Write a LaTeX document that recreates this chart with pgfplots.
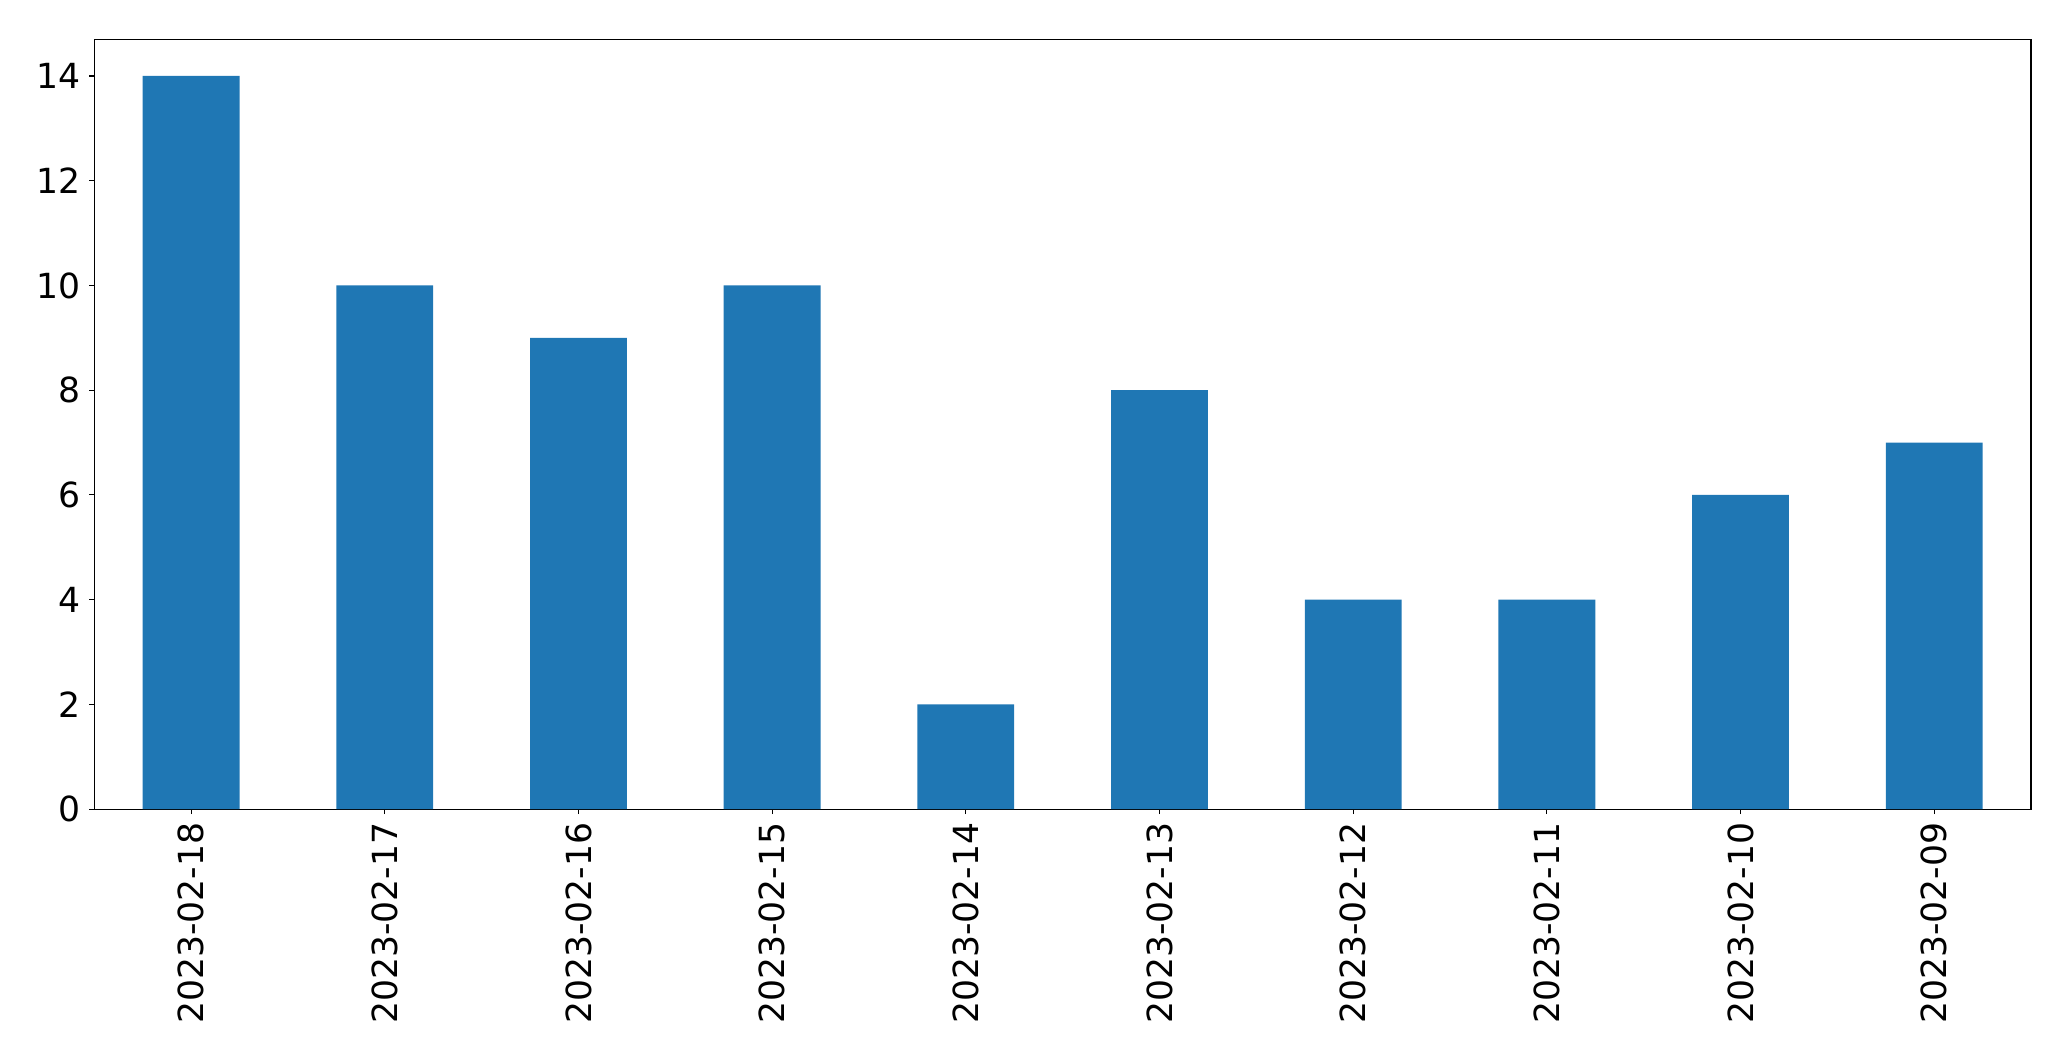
\documentclass[border=0pt]{standalone}
\usepackage{fontspec}
\setmainfont{DejaVu Sans}
\usepackage{pgfplots}
\pgfplotsset{compat=1.18}
\definecolor{barblue}{RGB}{31,119,180}

\begin{document}
\begin{tikzpicture}
  \useasboundingbox (-47.15pt,-126pt) rectangle (988.4pt,404.55pt);
  \begin{axis}[
      at={(0,0)}, anchor=south west,
      scale only axis,
      width=968.4pt, height=384.9pt,
      xmin=-0.5, xmax=9.5,
      ymin=0, ymax=14.7,
      ybar, bar width=0.5, bar shift=0pt,
      xtick=data,
      xticklabels={2023-02-18,2023-02-17,2023-02-16,2023-02-15,2023-02-14,2023-02-13,2023-02-12,2023-02-11,2023-02-10,2023-02-09},
      ytick={0,2,4,6,8,10,12,14},
      tick align=outside,
      xtick pos=bottom, ytick pos=left,
      major tick length=2.5pt,
      tick style={black, line width=0.55pt},
      axis line style={line width=0.55pt},
      /pgf/number format/assume math mode=true,
      ticklabel style={font=\fontsize{17.3}{20}\selectfont},
      xticklabel style={rotate=90, anchor=east, inner sep=1pt, xshift=-3pt},
      yticklabel style={inner sep=1pt, xshift=-3pt},
    ]
    \addplot[fill=barblue, draw=none] coordinates {
      (0,14) (1,10) (2,9) (3,10) (4,2) (5,8) (6,4) (7,4) (8,6) (9,7)
    };
  \end{axis}
\end{tikzpicture}
\end{document}
